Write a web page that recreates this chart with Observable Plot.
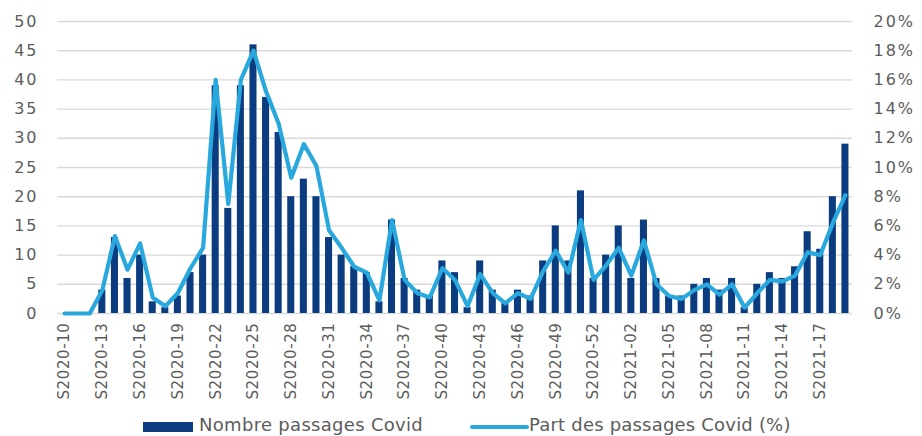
<!DOCTYPE html>
<html>
<head>
<meta charset="utf-8">
<script src="https://cdn.jsdelivr.net/npm/d3@7"></script>
<script src="https://cdn.jsdelivr.net/npm/@observablehq/plot@0.6"></script>
<style>
  html, body { margin: 0; padding: 0; background: #fff; }
  #chart { width: 922px; height: 436px; overflow: hidden; position: relative; }
  #chart svg { display: block; }
</style>
</head>
<body>
<div id="chart"></div>
<script>
// Weekly ISO weeks, S2020-10 through S2021-19
const weeks = [
  "S2020-10","S2020-11","S2020-12","S2020-13","S2020-14","S2020-15","S2020-16","S2020-17","S2020-18","S2020-19",
  "S2020-20","S2020-21","S2020-22","S2020-23","S2020-24","S2020-25","S2020-26","S2020-27","S2020-28","S2020-29",
  "S2020-30","S2020-31","S2020-32","S2020-33","S2020-34","S2020-35","S2020-36","S2020-37","S2020-38","S2020-39",
  "S2020-40","S2020-41","S2020-42","S2020-43","S2020-44","S2020-45","S2020-46","S2020-47","S2020-48","S2020-49",
  "S2020-50","S2020-51","S2020-52","S2020-53",
  "S2021-01","S2021-02","S2021-03","S2021-04","S2021-05","S2021-06","S2021-07","S2021-08","S2021-09","S2021-10",
  "S2021-11","S2021-12","S2021-13","S2021-14","S2021-15","S2021-16","S2021-17","S2021-18","S2021-19"
];

// Nombre de passages Covid (left axis)
const counts = [
  0, 0, 0, 4, 13, 6, 10, 2, 1, 3,
  7, 10, 39, 18, 39, 46, 37, 31, 20, 23,
  20, 13, 10, 8, 7, 2, 16, 6, 4, 3,
  9, 7, 1, 9, 4, 2, 4, 3, 9, 15,
  9, 21, 6, 10,
  15, 6, 16, 6, 3, 3, 5, 6, 4, 6,
  1, 5, 7, 6, 8, 14, 11, 20, 29
];

// Part des passages Covid, in % (right axis)
const shares = [
  0, 0, 0, 1.6, 5.3, 3.0, 4.8, 1.1, 0.5, 1.4,
  3.1, 4.5, 16.0, 7.5, 16.0, 18.0, 15.2, 13.0, 9.3, 11.6,
  10.1, 5.7, 4.5, 3.2, 2.8, 0.9, 6.4, 2.3, 1.4, 1.1,
  3.1, 2.3, 0.5, 2.7, 1.4, 0.7, 1.4, 1.0, 2.9, 4.3,
  2.8, 6.4, 2.3, 3.3,
  4.5, 2.6, 5.0, 2.0, 1.2, 1.0, 1.6, 2.0, 1.3, 2.0,
  0.4, 1.4, 2.3, 2.2, 2.6, 4.2, 4.0, 6.2, 8.1
];

// Axis ticks
const countTicks = [0, 5, 10, 15, 20, 25, 30, 35, 40, 45, 50];
const shareTicks = [0, 2, 4, 6, 8, 10, 12, 14, 16, 18, 20];
const weekTicks = [
  "S2020-10","S2020-13","S2020-16","S2020-19","S2020-22","S2020-25","S2020-28","S2020-31",
  "S2020-34","S2020-37","S2020-40","S2020-43","S2020-46","S2020-49","S2020-52",
  "S2021-02","S2021-05","S2021-08","S2021-11","S2021-14","S2021-17"
];

const legendLabels = ["Nombre passages Covid", "Part des passages Covid (%)"];

const barColor = "#0b3c80";
const lineColor = "#29a8dd";
const textColor = "#5c5c5c";

// The right axis shares the left scale: 50 passages ↔ 20 %
const countMax = countTicks[countTicks.length - 1];
const shareMax = shareTicks[shareTicks.length - 1];
const shareToCount = countMax / shareMax;

const rows = weeks.map((week, i) => ({ week, count: counts[i], share: shares[i] }));

const chart = Plot.plot({
  width: 922,
  height: 408,
  marginLeft: 57,
  marginRight: 70,
  marginTop: 21,
  marginBottom: 95,
  style: { fontFamily: "'DejaVu Sans', sans-serif", color: textColor, background: "#fff" },
  x: { type: "band", domain: weeks, paddingInner: 0.44, paddingOuter: 0.28 },
  y: { domain: [0, countMax] },
  marks: [
    Plot.ruleY(countTicks, { stroke: "#d9d9d9", strokeWidth: 1.4 }),
    Plot.axisY(countTicks, {
      anchor: "left", tickSize: 0, tickPadding: 19, fontSize: 16, label: null,
      fill: textColor
    }),
    Plot.axisY(shareTicks.map(s => s * shareToCount), {
      anchor: "right", tickSize: 0, tickPadding: 21, fontSize: 16, label: null,
      fill: textColor, tickFormat: v => `${Math.round(v / shareToCount)}%`
    }),
    Plot.barY(rows, { x: "week", y: "count", fill: barColor }),
    Plot.lineY(rows, {
      x: "week", y: d => d.share * shareToCount,
      stroke: lineColor, strokeWidth: 4.2, strokeLinejoin: "round"
    }),
    Plot.axisX(weekTicks, {
      anchor: "bottom", tickSize: 0, tickPadding: 9, tickRotate: -90,
      fontSize: 15, label: null, fill: textColor
    })
  ]
});

// Widen tick labels a touch
d3.select(chart).selectAll("g[aria-label='y-axis tick label'] text").style("letter-spacing", "2px");
d3.select(chart).selectAll("g[aria-label='x-axis tick label'] text").style("letter-spacing", "0.6px");

document.getElementById("chart").appendChild(chart);

// Legend below the plot
const legend = d3.select("#chart").append("svg")
  .attr("width", 922).attr("height", 28)
  .style("font-family", "'DejaVu Sans', sans-serif");

legend.append("rect")
  .attr("x", 143).attr("y", 14).attr("width", 50).attr("height", 10)
  .attr("fill", barColor);
legend.append("text")
  .attr("x", 199).attr("y", 23)
  .attr("font-size", 18).attr("fill", textColor).style("letter-spacing", "0.3px")
  .text(legendLabels[0]);

legend.append("line")
  .attr("x1", 472).attr("x2", 527).attr("y1", 19).attr("y2", 19)
  .attr("stroke", lineColor).attr("stroke-width", 4).attr("stroke-linecap", "round");
legend.append("text")
  .attr("x", 529).attr("y", 23)
  .attr("font-size", 18).attr("fill", textColor).style("letter-spacing", "0.2px")
  .text(legendLabels[1]);
</script>
</body>
</html>
